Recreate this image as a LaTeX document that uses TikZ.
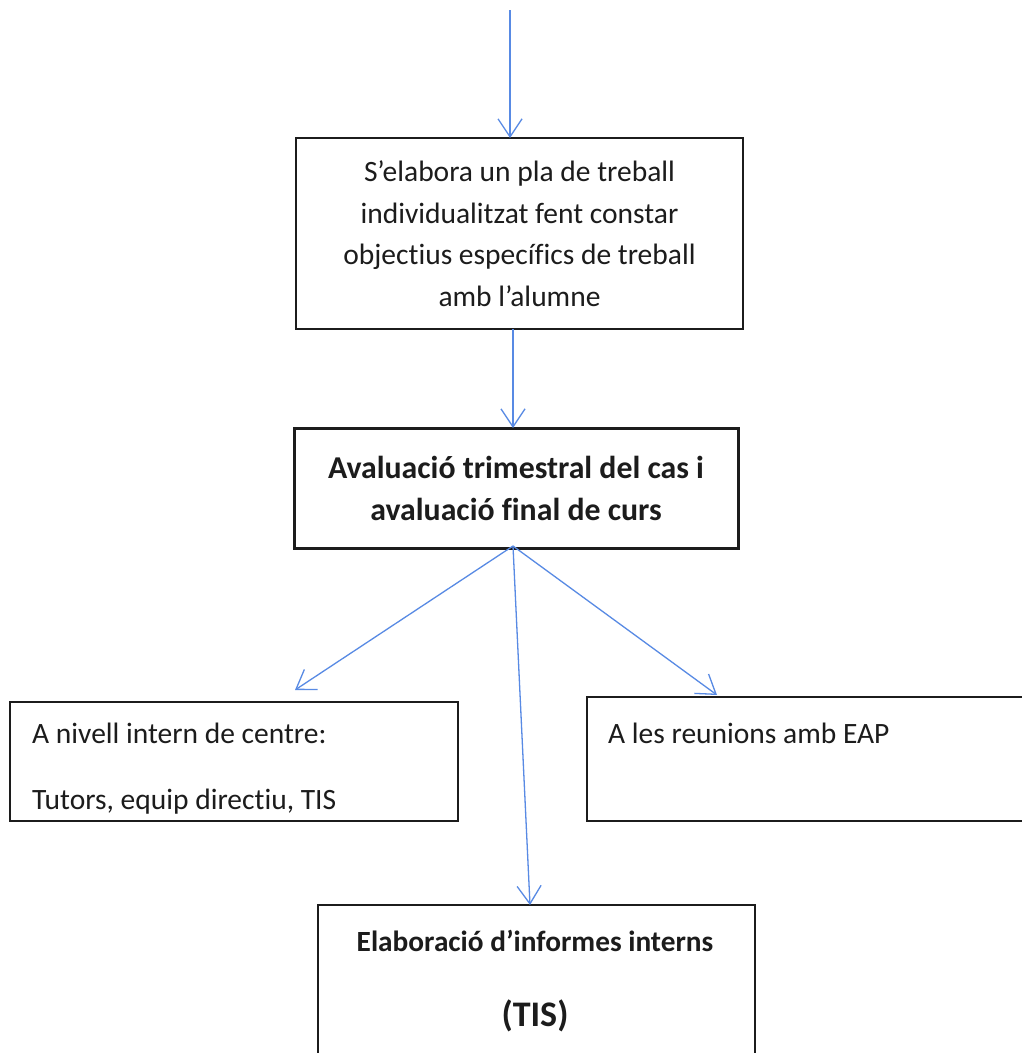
\documentclass[tikz,border=0pt]{standalone}
\usepackage{fontspec}
\setmainfont{Carlito}[Ligatures={NoCommon}]
\usetikzlibrary{arrows.meta}
\definecolor{arrowblue}{RGB}{88,138,228}
\definecolor{ink}{RGB}{28,28,28}
\begin{document}
\begin{tikzpicture}[x=1pt,y=-1pt,
  box/.style={draw=ink, rectangle, inner sep=0pt, outer sep=0pt, anchor=north west},
  conn/.style={draw=arrowblue, line width=1.3pt, -{Straight Barb[length=18pt,width=24pt,line width=1.3pt]}},
  reg/.style={text=ink, font=\fontsize{29.5}{41.5}\selectfont, inner sep=0pt},
  bld/.style={text=ink, font=\fontsize{31.8}{42}\selectfont\bfseries, inner sep=0pt},
  bldb/.style={text=ink, font=\fontsize{29.3}{42}\selectfont\bfseries, inner sep=0pt},
  bldc/.style={text=ink, font=\fontsize{36}{42}\selectfont\bfseries, inner sep=0pt}]
\useasboundingbox[fill=white] (0,0) rectangle (1021,1053);

% boxes
\node[box, line width=1.4pt, minimum width=447pt, minimum height=191pt, align=center, reg] (b1) at (296,138)
  {S’elabora un pla de treball\\individualitzat fent constar\\objectius específics de treball\\amb l’alumne};
\node[box, line width=3pt, minimum width=444pt, minimum height=120pt, align=center, bld] (b2) at (294,428)
  {Avaluació trimestral del cas i\\avaluació final de curs};
\node[box, line width=2pt, minimum width=448pt, minimum height=119pt] (b3) at (10,702) {};
\node[box, line width=2pt, minimum width=500pt, minimum height=124pt] (b4) at (587,697) {};
\node[box, line width=2.8pt, minimum width=437pt, minimum height=220pt] (b5) at (318,905) {};

% texts
\node[reg, anchor=base west] (t3a) at (32,743) {A nivell intern de centre:};
\node[reg, anchor=base west] (t3b) at (32,809) {Tutors, equip directiu, TIS};
\node[reg, anchor=base west] (t4) at (608,743) {A les reunions amb EAP};
\node[bldb, anchor=base] (t5a) at (535,951) {Elaboració d’informes interns};
\node[bldc, anchor=base] (t5b) at (535,1026) {(TIS)};

% connectors
\coordinate (top) at (510,10);
\coordinate (lt) at (295,690);
\coordinate (rt) at (717,695);
\coordinate (src) at (513,546);
\coordinate (bt) at (530,905);
\draw[conn] (top) -- (top |- b1.north);
\draw[conn] (b1.south -| src) -- (b2.north -| src);
\draw[conn] (src) -- (lt);
\draw[conn] (src) -- (rt);
\draw[conn] (src) -- (bt);
\end{tikzpicture}
\end{document}
